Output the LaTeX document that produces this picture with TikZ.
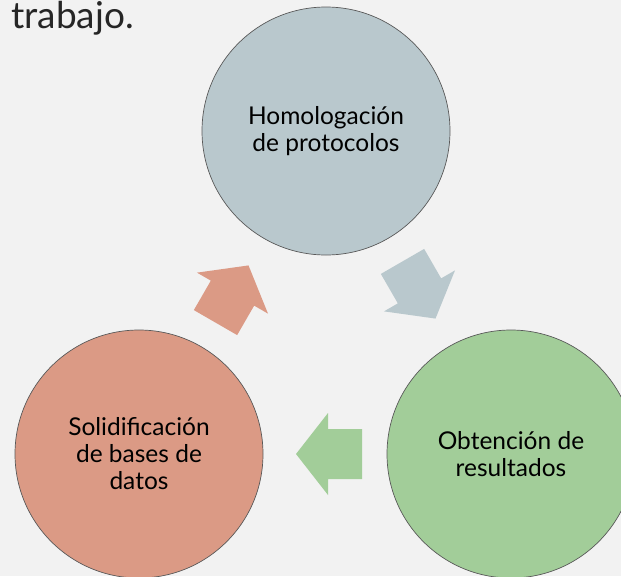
\documentclass[tikz,border=0pt]{standalone}
\usepackage{fontspec}
\setmainfont{Lato}
\usepackage{tikz}

\definecolor{bgpage}{HTML}{F2F2F2}
\definecolor{titlegrey}{HTML}{262626}
\definecolor{stagegrey}{HTML}{B9C8CD}
\definecolor{stagered}{HTML}{DB9A85}
\definecolor{stagegreen}{HTML}{A2CD99}

\tikzset{
	stage/.style={circle, draw=black!65, line width=0.7pt, minimum size=248pt, inner sep=0pt,
		align=center, font=\fontsize{24.5}{27}\selectfont},
	cyclearrow/.pic={
		\path[pic actions] (-33,-25) -- (1,-25) -- (1,-41) -- (33,0) -- (1,41) -- (1,25) -- (-33,25) -- cycle;
	}
}

\begin{document}
\begin{tikzpicture}[x=1pt,y=-1pt]
		\useasboundingbox (0,0) rectangle (621,576);
		\clip (0,0) rectangle (621,576);
		\fill[bgpage] (0,0) rectangle (621,576);
		\node[anchor=base east, inner sep=0pt, text=titlegrey, font=\fontsize{37}{40}\selectfont] (titulo) at (134,28.5) {trabajo.};
		\node[stage, fill=stagegrey] (homolog) at (326,131) {Homologación\\de protocolos};
		\node[stage, fill=stagegreen] (obtencion) at (511,454) {Obtención de\\resultados};
		\node[stage, fill=stagered] (solidif) at (139,454) {Solidificación\\de bases de\\datos};
		\pic[rotate=-60, fill=stagegrey] at (419,290) {cyclearrow};
		\pic[rotate=180, fill=stagegreen] at (329,454) {cyclearrow};
		\pic[rotate=60, fill=stagered] at (232,294) {cyclearrow};
	\end{tikzpicture}
\end{document}
